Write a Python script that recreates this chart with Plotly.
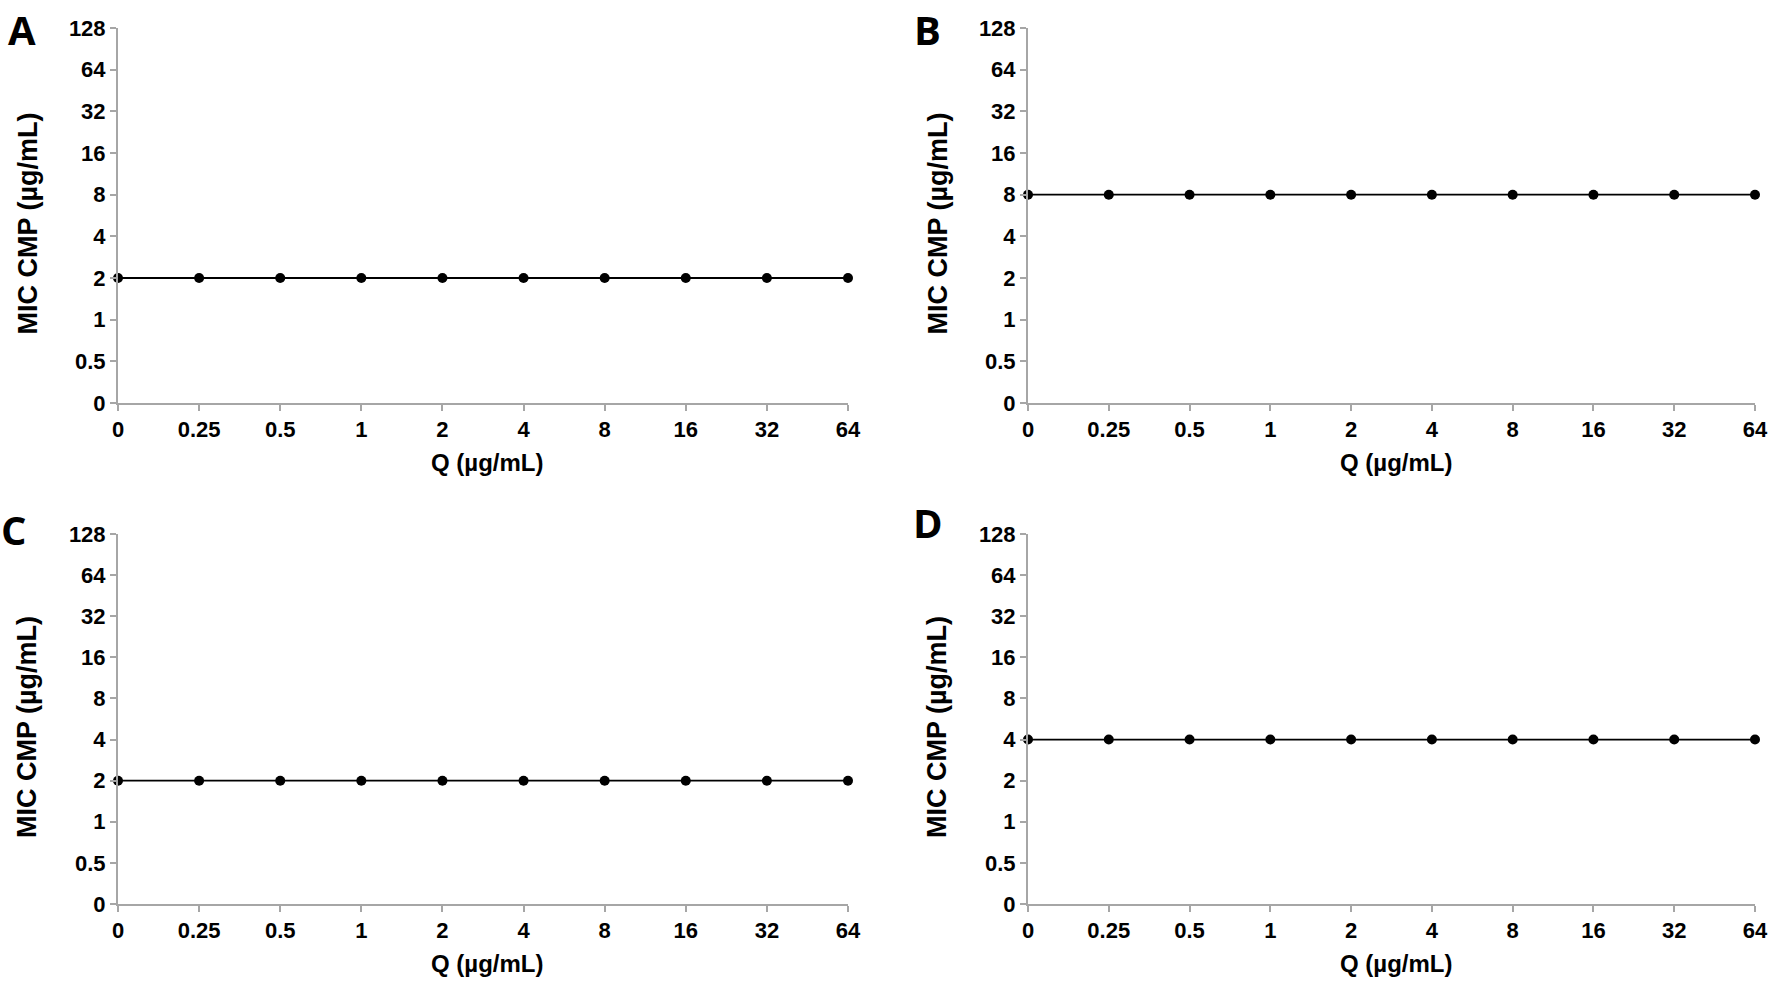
import plotly.graph_objects as go

# Data
q_labels = ["0", "0.25", "0.5", "1", "2", "4", "8", "16", "32", "64"]
mic_labels = ["0", "0.5", "1", "2", "4", "8", "16", "32", "64", "128"]
mic_a = [2, 2, 2, 2, 2, 2, 2, 2, 2, 2]
mic_b = [8, 8, 8, 8, 8, 8, 8, 8, 8, 8]
mic_c = [2, 2, 2, 2, 2, 2, 2, 2, 2, 2]
mic_d = [4, 4, 4, 4, 4, 4, 4, 4, 4, 4]
panel_names = ["A", "B", "C", "D"]

W, H = 1772, 981


def fx(px):
    return px / W


def fy(py):
    return 1 - py / H


# plot areas in pixels (left, right, top, bottom)
boxes = [
    (118, 848, 28, 403),
    (1028, 1755, 28, 403),
    (118, 848, 534, 904),
    (1028, 1755, 534, 904),
]
letter_pos = [(22, 0), (927, 0), (14, 500), (928, 493)]

fig = go.Figure()
axis_grey = "#a6a6a6"
font_fam = "Liberation Sans, Arial, sans-serif"
tick_font = dict(family=font_fam, size=22, color="black", weight="bold")

for i, (series, name) in enumerate(zip([mic_a, mic_b, mic_c, mic_d], panel_names)):
    n = "" if i == 0 else str(i + 1)
    fig.add_trace(go.Scatter(
        x=q_labels,
        y=[f"{v:g}" for v in series],
        mode="lines+markers",
        line=dict(color="black", width=1.8),
        marker=dict(color="black", size=10),
        cliponaxis=False,
        showlegend=False,
        name=name,
        xaxis="x" + n,
        yaxis="y" + n,
    ))
    l, r, t, b = boxes[i]
    common = dict(
        type="category",
        range=[0, 9],
        showgrid=False,
        zeroline=False,
        showline=True,
        linecolor=axis_grey,
        linewidth=2,
        ticks="outside",
        ticklen=6,
        tickwidth=1.5,
        tickcolor=axis_grey,
        tickfont=tick_font,
        automargin=False,
        fixedrange=True,
    )
    fig.layout["xaxis" + n] = dict(common, domain=[fx(l), fx(r)], anchor="y" + n,
                                   categoryorder="array", categoryarray=q_labels)
    fig.layout["yaxis" + n] = dict(common, domain=[fy(b), fy(t)], anchor="x" + n,
                                   categoryorder="array", categoryarray=mic_labels)

    # panel letter
    lx, ly = letter_pos[i]
    fig.add_annotation(x=fx(lx), y=fy(ly), xref="paper", yref="paper", text=f"<b>{name}</b>",
                       showarrow=False, xanchor="center", yanchor="top",
                       font=dict(family="Open Sans, sans-serif", size=40, color="black"))
    # axis titles
    fig.add_annotation(x=fx((l + r) / 2 + 4), y=fy(b + 59), xref="paper", yref="paper",
                       text="<b>Q (µg/mL)</b>", showarrow=False, xanchor="center", yanchor="middle",
                       font=dict(family=font_fam, size=24, color="black"))
    fig.add_annotation(x=fx(l - 91), y=fy((t + b) / 2 + 8), xref="paper", yref="paper",
                       text="<b>MIC CMP (µg/mL)</b>", showarrow=False, textangle=-90,
                       xanchor="center", yanchor="middle",
                       font=dict(family=font_fam, size=27, color="black"))

fig.update_layout(
    width=W,
    height=H,
    margin=dict(l=0, r=0, t=0, b=0),
    paper_bgcolor="white",
    plot_bgcolor="white",
)

fig.write_html(
    "out.html",
    config={"displayModeBar": False},
    post_script="document.body.style.margin='0';document.body.style.overflow='hidden';",
)
